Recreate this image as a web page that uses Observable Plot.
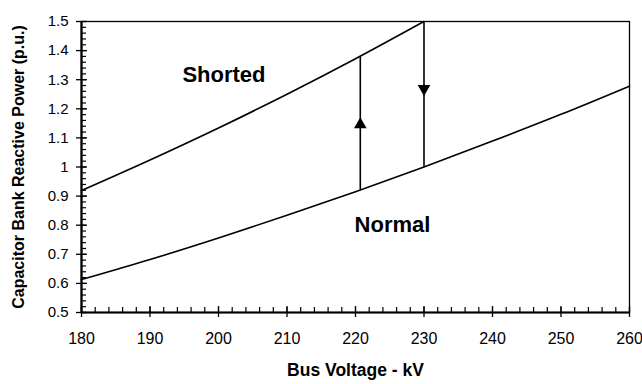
<!DOCTYPE html>
<html>
<head>
<meta charset="utf-8">
<script src="https://cdn.jsdelivr.net/npm/d3@7"></script>
<script src="https://cdn.jsdelivr.net/npm/@observablehq/plot@0.6"></script>
<style>
  html, body { margin: 0; padding: 0; background: #fff; }
  #chart { width: 642px; height: 384px; }
</style>
</head>
<body>
<div id="chart"></div>
<script>
// Data
const normalVoltage = [180, 190, 200, 210, 220, 230, 240, 250, 260];
const normalQ = [0.613, 0.682, 0.756, 0.834, 0.915, 1.0, 1.089, 1.181, 1.278];
const shortedVoltage = [180, 190, 200, 210, 220, 230];
const shortedQ = [0.919, 1.024, 1.134, 1.250, 1.372, 1.5];

// Transitions (vertical jumps between the curves)
const jumpVoltage = [220.7, 230];
const jumpFrom = [0.921, 1.5];
const jumpTo = [1.38, 1.0];
const arrowQ = [1.146, 1.269];
const arrowDir = ["up", "down"];

// Curve labels
const labelText = ["Shorted", "Normal"];
const labelVoltage = [200.8, 225.4];
const labelQ = [1.317, 0.80];

// Axes
const xTicks = [180, 190, 200, 210, 220, 230, 240, 250, 260];
const xMinor = d3.range(180, 260.01, 2);
const yTicks = [0.5, 0.6, 0.7, 0.8, 0.9, 1.0, 1.1, 1.2, 1.3, 1.4, 1.5];
const yTickLabels = ["0.5", "0.6", "0.7", "0.8", "0.9", "1", "1.1", "1.2", "1.3", "1.4", "1.5"];
const yMinor = d3.range(0, 51).map(i => +(0.5 + i * 0.02).toFixed(2));
const xTitle = "Bus Voltage - kV";
const yTitle = "Capacitor Bank Reactive Power (p.u.)";

const normal = normalVoltage.map((v, i) => ({v, q: normalQ[i]}));
const shorted = shortedVoltage.map((v, i) => ({v, q: shortedQ[i]}));
const jumps = jumpVoltage.map((v, i) => ({v, q1: jumpFrom[i], q2: jumpTo[i], qa: arrowQ[i], dir: arrowDir[i]}));
const labels = labelText.map((t, i) => ({t, v: labelVoltage[i], q: labelQ[i]}));

const font = "'Liberation Sans', Arial, sans-serif";

const chart = Plot.plot({
  width: 642,
  height: 384,
  marginLeft: 81,
  marginRight: 13,
  marginTop: 21,
  marginBottom: 72,
  style: {fontFamily: font, fontSize: "15px", color: "#000", background: "#fff", overflow: "visible"},
  x: {domain: [180, 260], axis: null},
  y: {domain: [0.5, 1.5], axis: null},
  marks: [
    Plot.frame({stroke: "#000", strokeWidth: 1.3}),
    // minor ticks (inside)
    Plot.axisX({ticks: xMinor, tickSize: -5, text: null, label: null, anchor: "bottom", strokeWidth: 1.2}),
    Plot.axisY({ticks: yMinor, tickSize: -5, text: null, label: null, anchor: "left", strokeWidth: 1.2}),
    // major ticks crossing axes
    Plot.axisX({ticks: xTicks, tickSize: -6, text: null, label: null, anchor: "bottom", strokeWidth: 1.3}),
    Plot.axisY({ticks: yTicks, tickSize: -6, text: null, label: null, anchor: "left", strokeWidth: 1.3}),
    Plot.axisX({ticks: xTicks, tickSize: 5, tickPadding: 15, anchor: "bottom", label: null,
      tickFormat: d => String(d), fontSize: 16, strokeWidth: 1.3}),
    Plot.axisY({ticks: yTicks, tickSize: 5, tickPadding: 8, anchor: "left", label: null,
      tickFormat: d => yTickLabels[yTicks.indexOf(d)], fontSize: 15, strokeWidth: 1.3}),
    // thick axis lines
    Plot.ruleX([180], {stroke: "#000", strokeWidth: 2.2}),
    Plot.ruleY([0.5], {stroke: "#000", strokeWidth: 2.2}),
    // curves
    Plot.line(normal, {x: "v", y: "q", curve: "monotone-x", stroke: "#000", strokeWidth: 1.6}),
    Plot.line(shorted, {x: "v", y: "q", curve: "monotone-x", stroke: "#000", strokeWidth: 1.6}),
    // jumps
    Plot.ruleX(jumps, {x: "v", y1: "q1", y2: "q2", stroke: "#000", strokeWidth: 1.6}),
    Plot.dot(jumps, {x: "v", y: "qa", symbol: "triangle", r: 4.7, fill: "#000", stroke: null,
      rotate: d => d.dir === "up" ? 0 : 180}),
    // labels
    Plot.text(labels, {x: "v", y: "q", text: "t", fontWeight: "bold", fontSize: 22, fill: "#000"}),
    // axis titles
    Plot.text([xTitle], {frameAnchor: "bottom", dy: 63, fontWeight: "bold", fontSize: 17.5, fill: "#000"}),
    Plot.text([yTitle], {frameAnchor: "left", dx: -63, rotate: -90, textAnchor: "middle",
      fontWeight: "bold", fontSize: 16, fill: "#000"})
  ]
});
document.getElementById("chart").appendChild(chart);
</script>
</body>
</html>
